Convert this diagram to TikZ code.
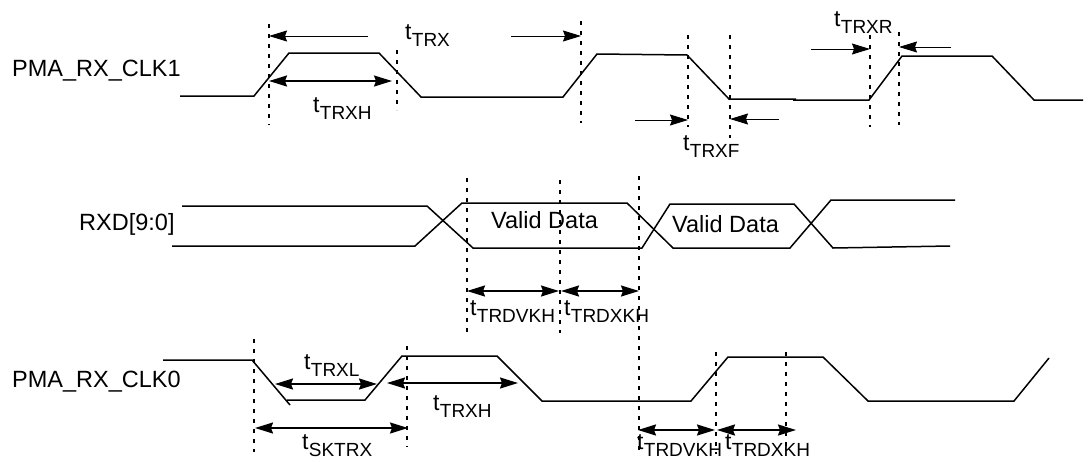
\documentclass[tikz,border=0pt]{standalone}
\usepackage{fontspec}
\setmainfont{Liberation Sans}
\usetikzlibrary{arrows.meta}
\newcommand{\tlab}[1]{{\fontsize{23}{23}\selectfont t}\kern0.3pt\raisebox{-7.5pt}{\fontsize{19}{19}\selectfont #1}}
\tikzset{
  wave/.style={line width=1.5pt, line join=miter},
  guide/.style={line width=1.8pt, dash pattern=on 4pt off 6pt},
  dim/.style={line width=1.8pt, {Stealth[length=18pt,width=11pt,inset=2pt]}-{Stealth[length=18pt,width=11pt,inset=2pt]}},
  pointer/.style={line width=0.9pt, -{Stealth[length=18pt,width=11pt,inset=2pt]}},
  lbl/.style={anchor=base west, inner sep=0pt, font=\fontsize{23.5}{23.5}\selectfont},
  tl/.style={anchor=base west, inner sep=0pt}
}
\begin{document}
\begin{tikzpicture}[x=1pt,y=-1pt]
\useasboundingbox[fill=white] (0,0) rectangle (1089,461);

% signal names
\node[lbl] (n1) at (12,76) {PMA\_RX\_CLK1};
\node[lbl] (n2) at (79,230) {RXD[9:0]};
\node[lbl] (n3) at (12,387) {PMA\_RX\_CLK0};

% PMA_RX_CLK1 waveform
\draw[wave] (180,96) -- (254,96) -- (289,53) -- (379,53) -- (421,97) -- (563,97) -- (597,54) -- (687,55) -- (729,99) -- (796,99);
\draw[wave] (793,100) -- (869,100) -- (902,56) -- (992,56) -- (1034,100) -- (1083,100);

% RXD waveform
\draw[wave] (182,206) -- (427,206) -- (473,248) -- (642,248) -- (670,204) -- (794,204) -- (833,248) -- (950,246);
\draw[wave] (172,246) -- (415,246) -- (462,203) -- (627,203) -- (673,248) -- (790,248) -- (831,200) -- (955,200);
\node[lbl] (v1) at (491,228) {Valid Data};
\node[lbl] (v2) at (672,232) {Valid Data};

% PMA_RX_CLK0 waveform
\draw[wave] (163,360) -- (252,360) -- (290,405);
\draw[wave] (287,400) -- (365,400) -- (402,356) -- (497,356) -- (542,401) -- (691,401) -- (728,357) -- (823,357) -- (868,401) -- (1014,401) -- (1049,358);

% guide lines
\coordinate (g1t) at (269,24);  \coordinate (g1b) at (269,125);
\coordinate (g2t) at (397,50);  \coordinate (g2b) at (397,110);
\coordinate (g3t) at (581,21);  \coordinate (g3b) at (581,123);
\coordinate (g4t) at (688,35);  \coordinate (g4b) at (688,127);
\coordinate (g5t) at (730,35);  \coordinate (g5b) at (730,138);
\coordinate (g6t) at (870,35);  \coordinate (g6b) at (870,127);
\coordinate (g7t) at (899,32);  \coordinate (g7b) at (899,125);
\coordinate (g8t) at (467,178); \coordinate (g8b) at (467,333);
\coordinate (g9t) at (560,180); \coordinate (g9b) at (560,333);
\coordinate (g10t) at (639,176); \coordinate (g10b) at (639,455);
\coordinate (g11t) at (254,339); \coordinate (g11b) at (254,452);
\coordinate (g12t) at (407,346); \coordinate (g12b) at (407,447);
\coordinate (g13t) at (716,352); \coordinate (g13b) at (716,454);
\coordinate (g14t) at (786,352); \coordinate (g14b) at (786,448);
\foreach \i in {1,...,14} {\draw[guide] (g\i t) -- (g\i b);}

% top row dimensions
\coordinate (a1) at (368,36); \coordinate (a1e) at (269,36);
\coordinate (a2) at (511,36); \coordinate (a2e) at (581,36);
\draw[pointer] (a1) -- (a1e);
\draw[pointer] (a2) -- (a2e);
\node[tl] (ltrx) at (405,39) {\tlab{TRX}};
\coordinate (b1) at (269,81); \coordinate (b2) at (392,81);
\draw[dim] (b1) -- (b2);
\node[tl] (ltrxh) at (313,112) {\tlab{TRXH}};
\coordinate (c1) at (635,120); \coordinate (c1e) at (688,120);
\coordinate (c2) at (779,119); \coordinate (c2e) at (730,119);
\draw[pointer] (c1) -- (c1e);
\draw[pointer] (c2) -- (c2e);
\node[tl] (ltrxf) at (683,150) {\tlab{TRXF}};
\coordinate (d1) at (811,49); \coordinate (d1e) at (870,49);
\coordinate (d2) at (951,47); \coordinate (d2e) at (899,47);
\draw[pointer] (d1) -- (d1e);
\draw[pointer] (d2) -- (d2e);
\node[tl] (ltrxr) at (834,26) {\tlab{TRXR}};

% middle row dimensions
\coordinate (e1) at (467,291); \coordinate (e2) at (559,291);
\coordinate (e3) at (561,291); \coordinate (e4) at (639,291);
\draw[dim] (e1) -- (e2);
\draw[dim] (e3) -- (e4);
\node[tl] (ltrdvkh) at (470,315) {\tlab{TRDVKH}};
\node[tl] (ltrdxkh) at (564,315) {\tlab{TRDXKH}};

% bottom row dimensions
\coordinate (f1) at (275,384); \coordinate (f2) at (377,384);
\draw[dim] (f1) -- (f2);
\node[tl] (ltrxl) at (304,369) {\tlab{TRXL}};
\coordinate (h1) at (387,383); \coordinate (h2) at (518,383);
\draw[dim] (h1) -- (h2);
\node[tl] (ltrxh2) at (433,410) {\tlab{TRXH}};
\coordinate (k1) at (255,428); \coordinate (k2) at (408,428);
\draw[dim] (k1) -- (k2);
\node[tl] (lsktrx) at (302,449) {\tlab{SKTRX}};
\coordinate (m1) at (638,430); \coordinate (m2) at (715,430);
\coordinate (m3) at (717,430); \coordinate (m4) at (796,430);
\draw[dim] (m1) -- (m2);
\draw[dim] (m3) -- (m4);
\node[tl] (ltrdvkh2) at (637,449) {\tlab{TRDVKH}};
\node[tl] (ltrdxkh2) at (725,449) {\tlab{TRDXKH}};
\end{tikzpicture}
\end{document}
